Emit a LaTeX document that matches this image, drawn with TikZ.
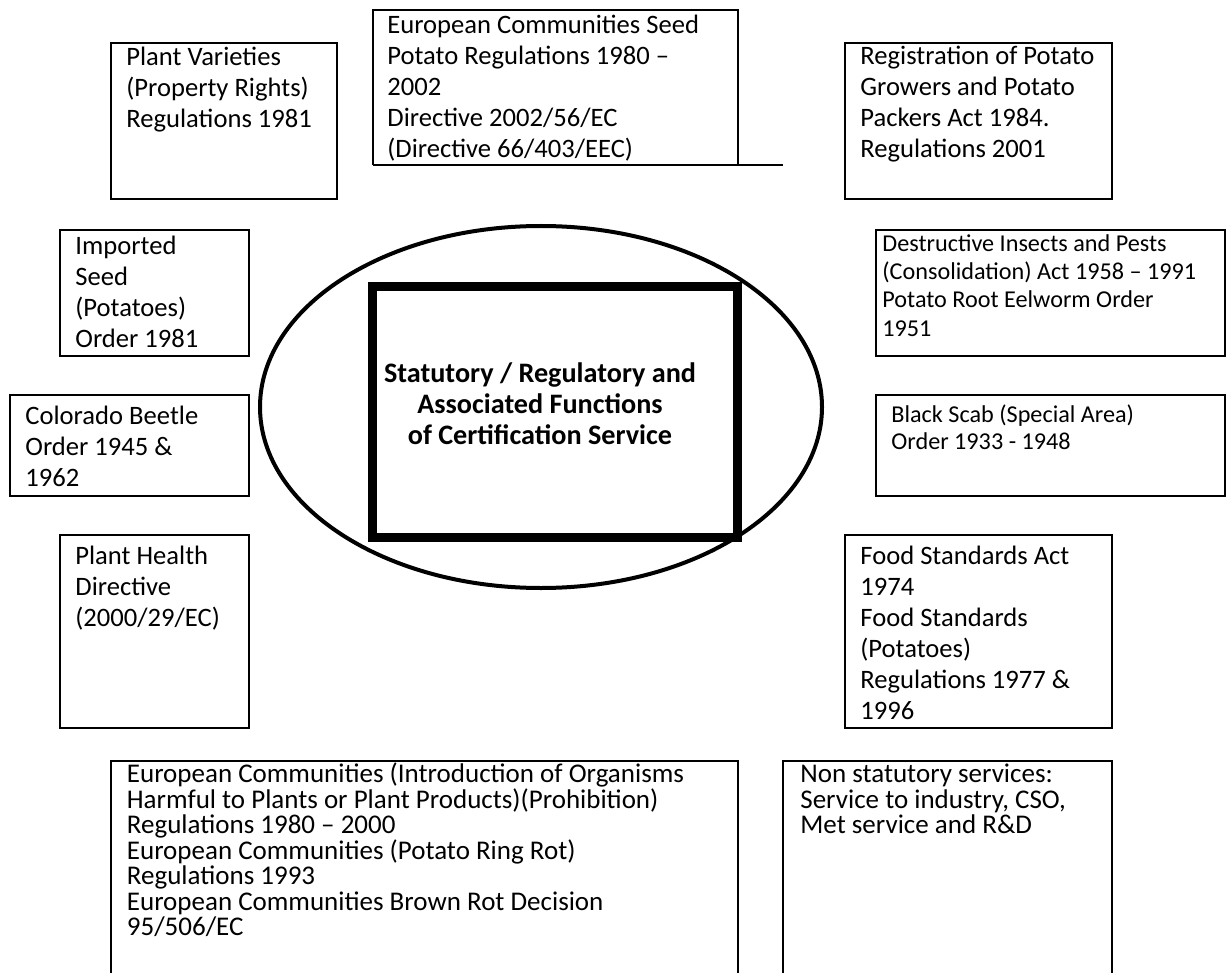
\documentclass[tikz,border=0pt]{standalone}
\usepackage{fontspec}
\setmainfont{Carlito}
\usepackage{tikz}
\usetikzlibrary{calc}

% first line of every text sits 11pt under the node top
\newcommand{\topstrut}{\rule{0pt}{11pt}}

\tikzset{
	lawbox/.style={line width=1pt, color=black},
	lawtext/.style={anchor=north west, inner sep=0pt, align=left, font={\fontsize{13.3}{15.5}\selectfont\lineskiplimit=-8pt}},
	smalltext/.style={lawtext, font={\fontsize{12.1}{14.1}\selectfont\lineskiplimit=-8pt}},
	tighttext/.style={lawtext, font={\fontsize{13.5}{12.75}\selectfont\lineskiplimit=-8pt}},
	hubtext/.style={anchor=north, inner sep=0pt, align=center, font=\bfseries\fontsize{14.1}{15.5}\selectfont}
}

\begin{document}
\begin{tikzpicture}[x=0.5pt, y=-0.5pt]
			%%%%% START %%%%%
			\useasboundingbox (0, 0) rectangle (1226, 973);
			
			% centre
			\draw[line width=2pt] (541, 407) ellipse (281 and 181);
			\draw[line width=4.5pt] (372.5, 286.5) rectangle (737, 537.5);
			\node[hubtext] (hub) at (540, 360) {\topstrut Statutory / Regulatory and\\Associated Functions\\of Certification Service};
			
			% top row
			\draw[lawbox] (111, 43) rectangle (337, 199);
			\node[lawtext] (varieties) at (126, 43) {\topstrut Plant Varieties\\(Property Rights)\\Regulations 1981};
			
			\draw[lawbox] (373, 165) -- (373, 10) -- (738, 10) -- (738, 165);
			\draw[lawbox] (373, 165) -- (783, 165);
			\node[lawtext] (seed) at (387, 11) {\topstrut European Communities Seed\\Potato Regulations 1980 --\\2002\\Directive 2002/56/EC\\(Directive 66/403/EEC)};
			
			\draw[lawbox] (845, 43) rectangle (1112, 199);
			\node[lawtext] (growers) at (860, 42.5) {\topstrut Registration of Potato\\Growers and Potato\\Packers Act 1984.\\Regulations 2001};
			
			% left column
			\draw[lawbox] (60, 230) rectangle (249, 356);
			\node[lawtext] (imported) at (75, 232) {\topstrut Imported\\Seed\\(Potatoes)\\Order 1981};
			
			\draw[lawbox] (10, 395) rectangle (249, 496);
			\node[lawtext] (colorado) at (25, 402.5) {\topstrut Colorado Beetle\\Order 1945 \&\\1962};
			
			\draw[lawbox] (60, 535) rectangle (249, 728);
			\node[lawtext] (health) at (75, 542) {\topstrut Plant Health\\Directive\\(2000/29/EC)};
			
			% right column
			\draw[lawbox] (876, 230) rectangle (1225, 356);
			\node[smalltext] (insects) at (882, 229) {\topstrut Destructive Insects and Pests\\(Consolidation) Act 1958 -- 1991\\Potato Root Eelworm Order\\1951};
			
			\draw[lawbox] (876, 395) rectangle (1225, 496);
			\node[smalltext, font={\fontsize{12.1}{13.35}\selectfont}] (scab) at (891, 400.5) {\topstrut Black Scab (Special Area)\\Order 1933 - 1948};
			
			\draw[lawbox] (845, 535) rectangle (1112, 728);
			\node[lawtext] (food) at (860, 542) {\topstrut Food Standards Act\\1974\\Food Standards\\(Potatoes)\\Regulations 1977 \&\\1996};
			
			% bottom row
			\draw[lawbox] (111, 973) -- (111, 761) -- (738, 761) -- (738, 973);
			\node[tighttext] (organisms) at (126.5, 760.5) {\topstrut European Communities (Introduction of Organisms\\Harmful to Plants or Plant Products)(Prohibition)\\Regulations 1980 -- 2000\\European Communities (Potato Ring Rot)\\Regulations 1993\\European Communities Brown Rot Decision\\95/506/EC};
			
			\draw[lawbox] (783, 973) -- (783, 761) -- (1112, 761) -- (1112, 973);
			\node[tighttext] (nonstat) at (800, 760.5) {\topstrut Non statutory services:\\Service to industry, CSO,\\Met service and R\&D};
			
			%%%%% END %%%%%
\end{tikzpicture}
\end{document}
